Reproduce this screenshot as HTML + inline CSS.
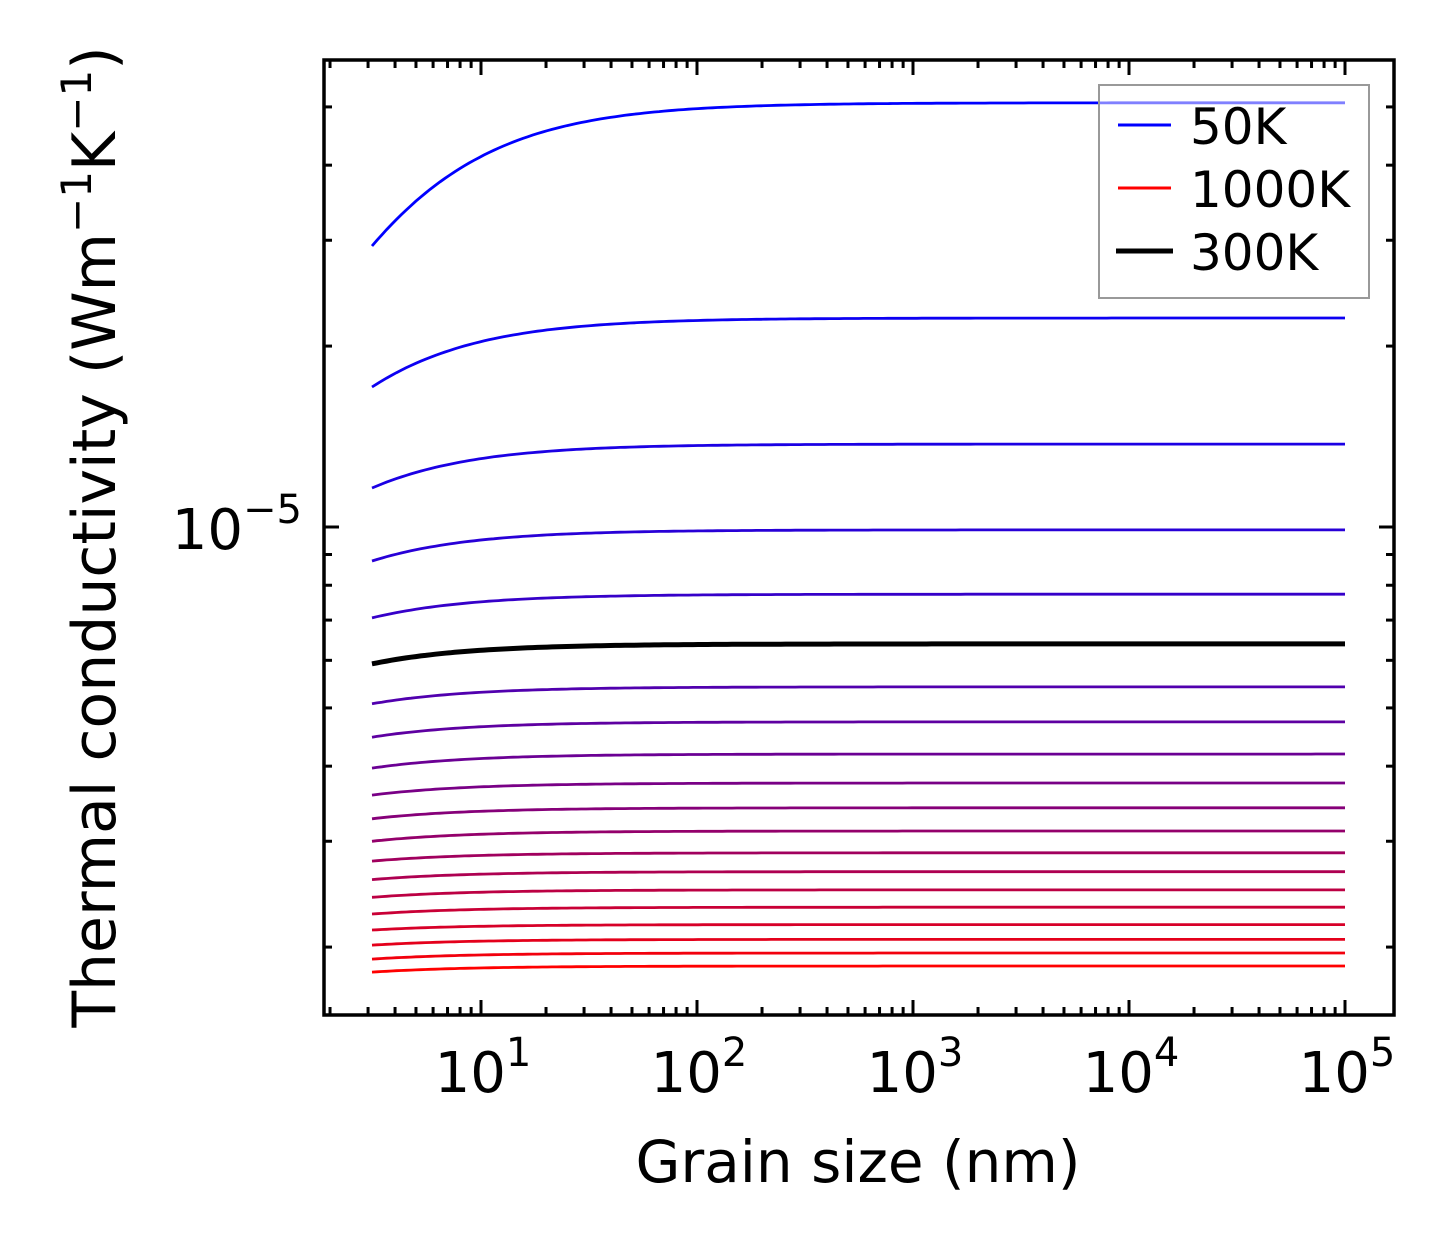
<!DOCTYPE html>
<html><head><meta charset="utf-8"><style>
html,body{margin:0;padding:0;background:#fff;}
svg{display:block;font-family:"DejaVu Sans","Liberation Sans",sans-serif;}
</style></head><body>
<svg id="chart" width="1454" height="1254" viewBox="0 0 1454 1254" xmlns="http://www.w3.org/2000/svg">
<g id="curves"></g>
<g id="ticks"></g>
<rect x="324" y="60" width="1070" height="955" fill="none" stroke="#000" stroke-width="3.5"/>
<g id="labels"></g>
<text x="858" y="1182" font-size="58" text-anchor="middle">Grain size (nm)</text>
<text transform="translate(115,537) rotate(-90)" font-size="60" text-anchor="middle">Thermal conductivity (Wm<tspan font-size="42" dy="-24">−1</tspan><tspan dy="24">K</tspan><tspan font-size="42" dy="-24">−1</tspan><tspan dy="24">)</tspan></text>
<g>
<rect x="1099" y="85" width="270" height="213" fill="#fff" fill-opacity="0.5" stroke="#999" stroke-width="2"/>
<line x1="1118" y1="125" x2="1171" y2="125" stroke="#0000ff" stroke-width="3"/>
<text x="1190" y="144" font-size="50">50K</text>
<line x1="1118" y1="188" x2="1171" y2="188" stroke="#ff0000" stroke-width="3"/>
<text x="1190" y="207" font-size="50">1000K</text>
<line x1="1116" y1="251" x2="1173" y2="251" stroke="#000" stroke-width="5"/>
<text x="1190" y="270" font-size="50">300K</text>
</g>
</svg>
<script>
const temps = [50,100,150,200,250,300,350,400,450,500,550,600,650,700,750,800,850,900,950,1000];
const kInf = [5.08e-5,2.227e-5,1.374e-5,0.989e-5,7.73e-6,6.39e-6,5.42e-6,4.74e-6,4.19e-6,3.75e-6,3.41e-6,3.12e-6,2.87e-6,2.67e-6,2.49e-6,2.33e-6,2.18e-6,2.06e-6,1.955e-6,1.86e-6];
const kStart = [2.935e-5,1.71e-5,1.161e-5,8.78e-6,7.06e-6,5.92e-6,5.08e-6,4.47e-6,3.97e-6,3.58e-6,3.27e-6,3.00e-6,2.78e-6,2.59e-6,2.42e-6,2.27e-6,2.135e-6,2.015e-6,1.91e-6,1.817e-6];
const grainMin = 3.13, grainMax = 1e5;
const xTickExps = [1,2,3,4,5];
const highlightT = 300;

const NS="http://www.w3.org/2000/svg";
const X = v => 481 + 216*(Math.log10(v)-1);
const Y = v => 527 - 601*(Math.log10(v)+5);
function mk(tag, attrs, parent){const e=document.createElementNS(NS,tag);for(const k in attrs)e.setAttribute(k,attrs[k]);parent.appendChild(e);return e;}
const curves=document.getElementById('curves');
function pathFor(i){
  const L0 = grainMin*(kInf[i]/kStart[i]-1);
  let d='';
  for(let j=0;j<=200;j++){
    const lg = Math.log10(grainMin)+(Math.log10(grainMax)-Math.log10(grainMin))*j/200;
    const L = Math.pow(10,lg);
    const k = kInf[i]/(1+L0/L);
    d += (j?'L':'M')+X(L).toFixed(1)+','+Y(k).toFixed(1);
  }
  return d;
}
temps.forEach((t,i)=>{
  const f=i/(temps.length-1);
  const c='rgb('+Math.round(255*f)+',0,'+Math.round(255*(1-f))+')';
  const p=mk('path',{d:pathFor(i),fill:'none',stroke:c,'stroke-width':2.8},curves);
  
  
});
const hi=temps.indexOf(highlightT);
const pb=mk('path',{d:pathFor(hi),fill:'none',stroke:'#000','stroke-width':5},curves);



const ticks=document.getElementById('ticks');
const T=60,B=1015,Lx=324,R=1394;
function tk(x1,y1,x2,y2){const l=mk('line',{x1,y1,x2,y2,stroke:'#000','stroke-width':3},ticks);

}
for(let e=0;e<=5;e++){for(let m=1;m<=9;m++){const v=m*Math.pow(10,e);const x=X(v);if(x<Lx+1||x>R-1)continue;const len=m===1?15:8;tk(x,B,x,B-len);tk(x,T,x,T+len);}}
for(let e=-6;e<=-4;e++){for(let m=1;m<=9;m++){const v=m*Math.pow(10,e);const y=Y(v);if(y<T+1||y>B-1)continue;const len=m===1?15:8;tk(Lx,y,Lx+len,y);tk(R,y,R-len,y);}}
const labels=document.getElementById('labels');
xTickExps.forEach(e=>{
  const t=mk('text',{x:X(Math.pow(10,e))+2,y:1092,'font-size':56,'text-anchor':'middle'},labels);
  
  
  t.innerHTML='10<tspan font-size="40" dy="-26">'+e+'</tspan>';
});
const yl=mk('text',{x:302,y:549,'font-size':56,'text-anchor':'end'},labels);


yl.innerHTML='10<tspan font-size="40" dy="-26">−5</tspan>';
</script>
</body></html>
